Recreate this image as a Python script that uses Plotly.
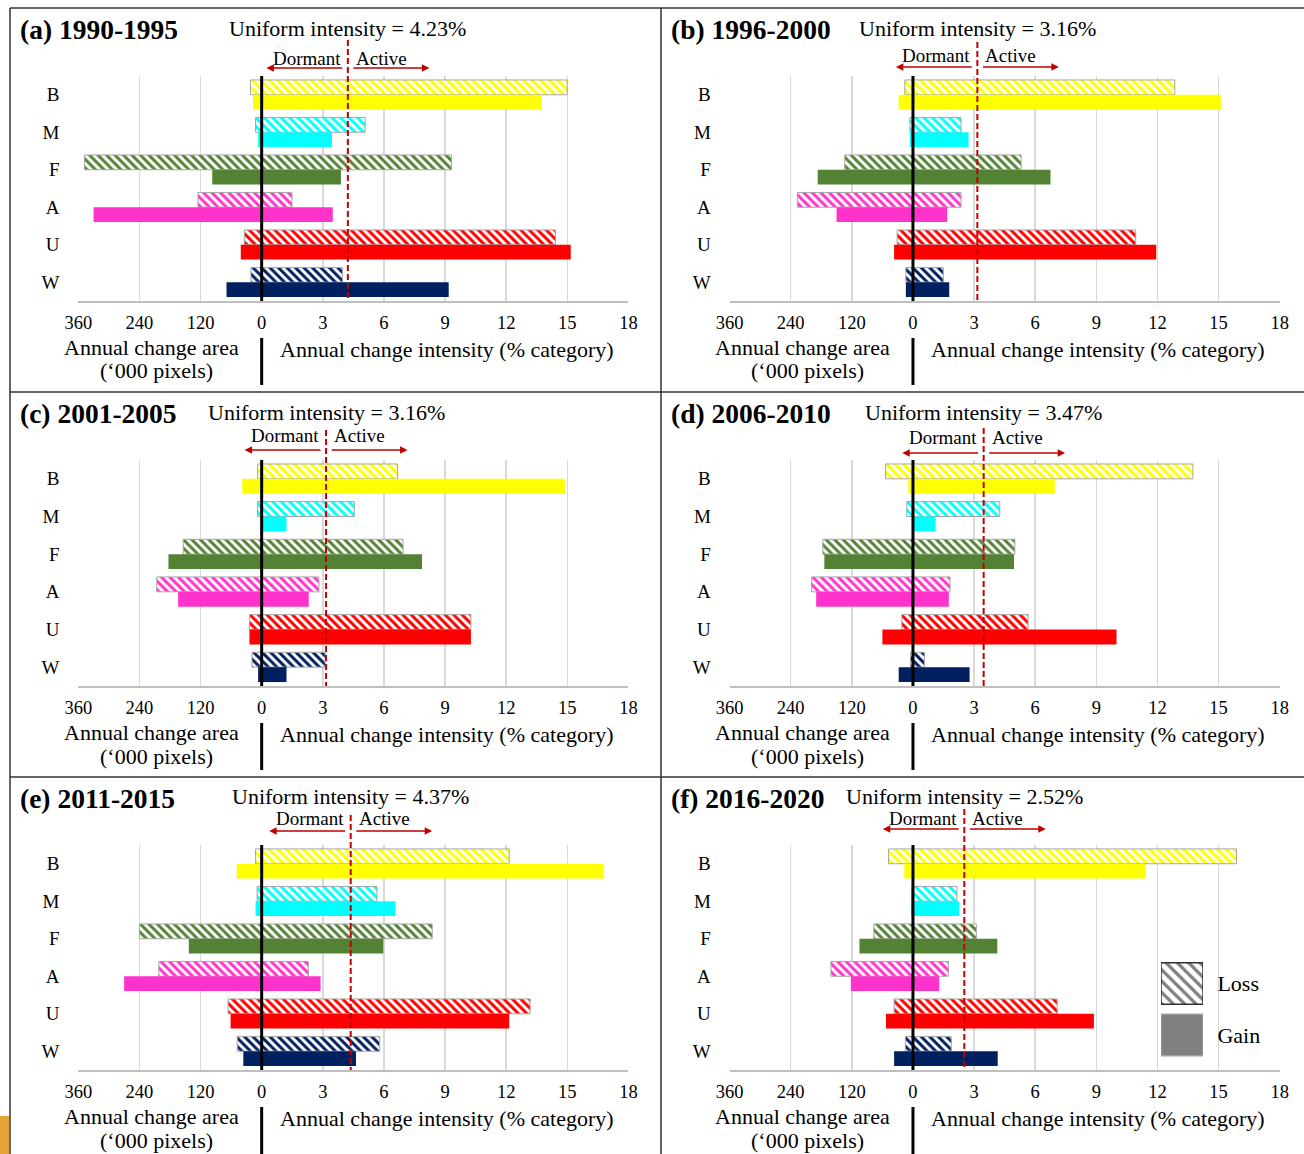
import plotly.graph_objects as go

# ---------------- data ----------------
categories = ["B", "M", "F", "A", "U", "W"]
cat_colors = ["#FFFF00", "#00FFFF", "#548235", "#FF33CC", "#FF0000", "#002060"]
periods = ["(a) 1990-1995", "(b) 1996-2000", "(c) 2001-2005",
           "(d) 2006-2010", "(e) 2011-2015", "(f) 2016-2020"]
uniform_intensity = [4.23, 3.16, 3.16, 3.47, 4.37, 2.52]

tick_vals = [-9, -6, -3, 0, 3, 6, 9, 12, 15, 18]
tick_text = ["360", "240", "120", "0", "3", "6", "9", "12", "15", "18"]
AREA_PER_UNIT = 40  # 120 ('000 pixels) on the left share the width of 3 % on the right

# annual change area ('000 pixels) and intensity (% category), per period
loss_area_a = [22, 12, 348, 125, 34, 21]
loss_int_a = [15.00, 5.08, 9.32, 1.49, 14.42, 3.97]
gain_area_a = [17, 7, 97, 330, 41, 69]
gain_int_a = [13.74, 3.45, 3.89, 3.49, 15.17, 9.18]

loss_area_b = [16, 6, 134, 227, 31, 14]
loss_int_b = [12.85, 2.36, 5.31, 2.36, 10.93, 1.49]
gain_area_b = [28, 6, 187, 150, 37, 14]
gain_int_b = [15.11, 2.73, 6.75, 1.68, 11.94, 1.78]

loss_area_c = [8, 8, 154, 206, 24, 19]
loss_int_c = [6.67, 4.55, 6.94, 2.81, 10.27, 3.12]
gain_area_c = [38, 1, 183, 164, 24, 7]
gain_int_c = [14.88, 1.22, 7.87, 2.31, 10.27, 1.22]

loss_area_d = [54, 12, 177, 199, 22, 5]
loss_int_d = [13.74, 4.26, 5.00, 1.82, 5.65, 0.56]
gain_area_d = [9, 1, 174, 190, 60, 28]
gain_int_d = [6.96, 1.11, 4.96, 1.76, 9.99, 2.78]

loss_area_e = [12, 9, 240, 202, 66, 48]
loss_int_e = [12.15, 5.66, 8.37, 2.29, 13.18, 5.79]
gain_area_e = [49, 12, 143, 270, 61, 36]
gain_int_e = [16.78, 6.57, 5.97, 2.89, 12.15, 4.63]

loss_area_f = [48, 2, 77, 161, 37, 15]
loss_int_f = [15.88, 2.16, 3.11, 1.74, 7.08, 1.88]
gain_area_f = [17, 4, 105, 122, 53, 37]
gain_int_f = [11.42, 2.26, 4.14, 1.29, 8.88, 4.16]

panels = [
    (loss_area_a, loss_int_a, gain_area_a, gain_int_a),
    (loss_area_b, loss_int_b, gain_area_b, gain_int_b),
    (loss_area_c, loss_int_c, gain_area_c, gain_int_c),
    (loss_area_d, loss_int_d, gain_area_d, gain_int_d),
    (loss_area_e, loss_int_e, gain_area_e, gain_int_e),
    (loss_area_f, loss_int_f, gain_area_f, gain_int_f),
]

# ---------------- layout helpers ----------------
W, H = 1304, 1154
FONT = "Liberation Serif, Times New Roman, serif"
RED = "#C00000"


def px(x):
    return x / W


def py(y):
    return 1 - y / H


col_px = [(78.3, 628.4), (729.6, 1279.7)]
row_px = [(76, 301), (460, 686), (845, 1070)]
panel_left = [10, 661]
dormant_off = [17.5, 20.5, 24.5, 23, 27, 27]
arrow_off = [8, 9, 10, 7, 14, 16]
dash_off = [36, 34, 30, 32, 30, 36]

fig = go.Figure()
shapes = []
annotations = []
layout_axes = {}

for i in range(6):
    r, c = divmod(i, 2)
    n = "" if i == 0 else str(i + 1)
    xa, ya = "x" + n, "y" + n
    x0, x1 = col_px[c]
    top, bot = row_px[r]
    la, li, ga, gi = panels[i]
    u = uniform_intensity[i]

    fig.add_trace(go.Bar(
        orientation="h", y=categories,
        base=[-a / AREA_PER_UNIT for a in la],
        x=[a / AREA_PER_UNIT + v for a, v in zip(la, li)],
        marker=dict(color="white",
                    pattern=dict(shape="\\", fgcolor=cat_colors, bgcolor="white",
                                 size=6, solidity=0.5, fillmode="replace"),
                    line=dict(color="#a6a6a6", width=1)),
        xaxis=xa, yaxis=ya, showlegend=False, name="Loss", hoverinfo="skip"))
    fig.add_trace(go.Bar(
        orientation="h", y=categories,
        base=[-a / AREA_PER_UNIT for a in ga],
        x=[a / AREA_PER_UNIT + v for a, v in zip(ga, gi)],
        marker=dict(color=cat_colors, line=dict(width=0)),
        xaxis=xa, yaxis=ya, showlegend=False, name="Gain", hoverinfo="skip"))

    layout_axes["xaxis" + n] = dict(
        domain=[px(x0), px(x1)], anchor=ya, range=[-9, 18],
        tickmode="array", tickvals=tick_vals, ticktext=tick_text,
        showgrid=True, gridcolor="#d9d9d9", gridwidth=1.5, zeroline=False,
        showline=True, linecolor="#bfbfbf", linewidth=1.5,
        ticks="outside", ticklen=4, tickcolor="rgba(0,0,0,0)",
        tickfont=dict(family=FONT, size=18.5, color="black"), fixedrange=True)
    layout_axes["yaxis" + n] = dict(
        domain=[py(bot), py(top)], anchor=xa, type="category",
        categoryorder="array", categoryarray=categories, range=[5.5, -0.5],
        showgrid=False, zeroline=False, showline=False,
        ticks="outside", ticklen=14, tickcolor="rgba(0,0,0,0)",
        tickfont=dict(family=FONT, size=19, color="black"), fixedrange=True)

    # zero line (black)
    shapes.append(dict(type="line", xref=xa, yref=ya + " domain", x0=0, x1=0, y0=0, y1=1,
                       line=dict(color="black", width=3), layer="above"))
    # uniform intensity dashed line
    shapes.append(dict(type="line", xref=xa, yref="paper", x0=u, x1=u,
                       y0=py(top - dash_off[i]), y1=py(bot),
                       line=dict(color=RED, width=2, dash="6px,3px"), layer="above"))
    # separator between axis titles
    shapes.append(dict(type="line", xref=xa, yref="paper", x0=0, x1=0,
                       y0=py(bot + 37), y1=py(bot + 84),
                       line=dict(color="black", width=3)))

    # title
    annotations.append(dict(text="<b>" + periods[i] + "</b>", xref="paper", yref="paper",
                            x=px(panel_left[c] + 8), y=py(top - 47), xanchor="left", yanchor="middle",
                            showarrow=False, font=dict(family=FONT, size=27.5, color="black")))
    annotations.append(dict(text="Uniform intensity = %.2f%%" % u, xref=xa, yref="paper",
                            x=u, y=py(top - 48), xanchor="center", yanchor="middle",
                            showarrow=False, font=dict(family=FONT, size=22, color="black")))
    annotations.append(dict(text="Dormant", xref=xa, yref="paper", x=u, xshift=-5,
                            y=py(top - dormant_off[i]), xanchor="right", yanchor="middle",
                            showarrow=False, font=dict(family=FONT, size=19, color="black")))
    annotations.append(dict(text="Active", xref=xa, yref="paper", x=u, xshift=6,
                            y=py(top - dormant_off[i]), xanchor="left", yanchor="middle",
                            showarrow=False, font=dict(family=FONT, size=19, color="black")))
    ay = py(top - arrow_off[i])
    for head, tail in ((u - 4.0, u - 0.2), (u + 4.0, u + 0.2)):
        annotations.append(dict(text="", xref=xa, yref="paper", axref=xa, ayref="pixel",
                                x=head, y=ay, ax=tail, ay=0, showarrow=True,
                                arrowhead=2, arrowsize=1, arrowwidth=1.5, arrowcolor=RED))
    # axis titles
    annotations.append(dict(text="Annual change area", xref=xa, yref="paper", x=-5.41,
                            y=py(bot + 46), xanchor="center", yanchor="middle", showarrow=False,
                            font=dict(family=FONT, size=22, color="black")))
    annotations.append(dict(text="(\u2018000 pixels)", xref=xa, yref="paper", x=-5.16,
                            y=py(bot + 70), xanchor="center", yanchor="middle", showarrow=False,
                            font=dict(family=FONT, size=22, color="black")))
    annotations.append(dict(text="Annual change intensity (% category)", xref=xa, yref="paper",
                            x=9.1, y=py(bot + 48), xanchor="center", yanchor="middle",
                            showarrow=False, font=dict(family=FONT, size=22, color="black")))

# ---------------- legend (panel f) ----------------
fig.add_trace(go.Bar(
    orientation="h", y=["Loss"], x=[1], width=0.806, offset=-0.403,
    marker=dict(color="white",
                pattern=dict(shape="\\", fgcolor="#808080", bgcolor="white", size=8, solidity=0.4,
                             fillmode="replace"),
                line=dict(color="#303030", width=1.5)),
    xaxis="x7", yaxis="y7", showlegend=False, hoverinfo="skip"))
fig.add_trace(go.Bar(
    orientation="h", y=["Gain"], x=[1], width=0.806, offset=-0.403,
    marker=dict(color="#808080", line=dict(color="#a0a0a0", width=1.5)),
    xaxis="x7", yaxis="y7", showlegend=False, hoverinfo="skip"))
layout_axes["xaxis7"] = dict(domain=[px(1161), px(1203)], anchor="y7", range=[0, 1],
                             visible=False, fixedrange=True)
layout_axes["yaxis7"] = dict(domain=[py(1060.75), py(957.75)], anchor="x7", side="right",
                             type="category", categoryorder="array", categoryarray=["Loss", "Gain"],
                             range=[1.5, -0.5], showgrid=False, zeroline=False, showline=False,
                             ticks="outside", ticklen=9, tickcolor="rgba(0,0,0,0)",
                             tickfont=dict(family=FONT, size=22, color="black"), fixedrange=True)

# ---------------- frame lines ----------------
frame = dict(color="#333333", width=1.5)
shapes += [
    dict(type="line", xref="paper", yref="paper", x0=px(10), x1=1, y0=py(8), y1=py(8), line=frame),
    dict(type="line", xref="paper", yref="paper", x0=px(10), x1=px(10), y0=py(8), y1=0, line=frame),
    dict(type="line", xref="paper", yref="paper", x0=px(661), x1=px(661), y0=py(8), y1=0, line=frame),
    dict(type="line", xref="paper", yref="paper", x0=px(10), x1=1, y0=py(392), y1=py(392), line=frame),
    dict(type="line", xref="paper", yref="paper", x0=px(10), x1=1, y0=py(777), y1=py(777), line=frame),
    dict(type="rect", xref="paper", yref="paper", x0=0, x1=px(9), y0=0, y1=py(1116),
         line=dict(width=0), fillcolor="#E3A535"),
]

fig.update_layout(
    width=W, height=H, autosize=False,
    margin=dict(l=0, r=0, t=0, b=0, pad=0, autoexpand=False),
    paper_bgcolor="white", plot_bgcolor="white",
    barmode="group", bargap=0.21, bargroupgap=0,
    shapes=shapes, annotations=annotations,
    font=dict(family=FONT, color="black"),
    **layout_axes,
)

fig.write_html("out.html", config={"displayModeBar": False, "staticPlot": True},
               post_script="document.body.style.margin='0px';document.body.style.overflow='hidden';")
